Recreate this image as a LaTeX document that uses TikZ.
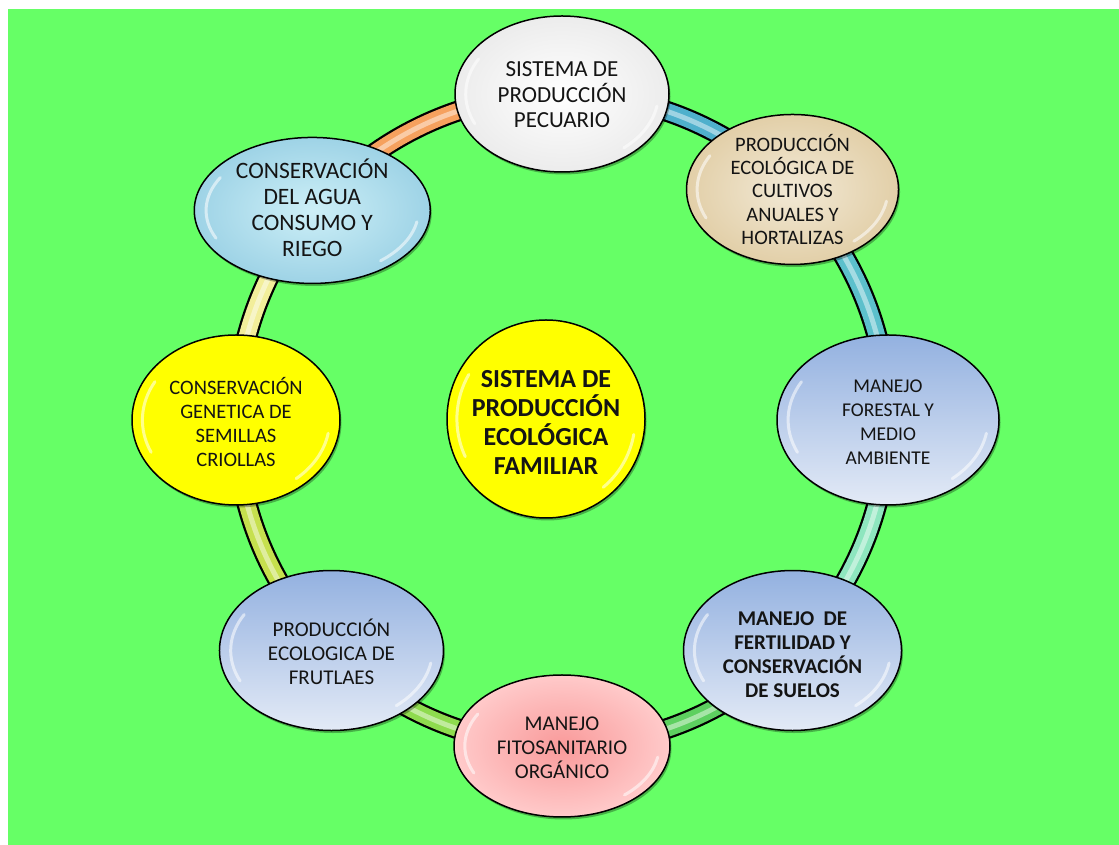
\documentclass[tikz,border=0pt]{standalone}
\usepackage{fontspec}
\setmainfont{Carlito}
\usetikzlibrary{shapes.geometric,shadows}
\pgfdeclarelayer{bg}
\pgfdeclarelayer{ring}
\pgfsetlayers{bg,ring,main}
\definecolor{bggreen}{HTML}{66FF66}
\definecolor{txtc}{HTML}{141414}
\definecolor{segA}{HTML}{F6A15E}
\definecolor{segB}{HTML}{4FB0CC}
\definecolor{segC}{HTML}{5CC0CC}
\definecolor{segD}{HTML}{8EE6BF}
\definecolor{segE}{HTML}{5DD060}
\definecolor{segF}{HTML}{8EDB4E}
\definecolor{segG}{HTML}{C6E04E}
\definecolor{segH}{HTML}{F2EE9A}
\definecolor{blueTop}{HTML}{93B1E0}
\definecolor{blueBot}{HTML}{E3EAF6}
\definecolor{pinkIn}{HTML}{F99A9A}
\definecolor{pinkOut}{HTML}{FFCACA}
\definecolor{tanIn}{HTML}{F2E9D6}
\definecolor{tanOut}{HTML}{E2CFA8}
\definecolor{waterIn}{HTML}{CDEFF7}
\definecolor{waterOut}{HTML}{9ED3E6}
\definecolor{yel}{HTML}{FFFF00}
\newcommand\ringseg[4]{%
  \draw[line width=21pt, black] (#1.center) arc[start angle=#2, end angle=#3, radius=326];
  \draw[line width=16.5pt, #4] (#1.center) arc[start angle=#2, end angle=#3, radius=326];
  \draw[line width=5pt, white, opacity=.45] (#1.center) arc[start angle=#2, end angle=#3, radius=326];}
\newcommand\mkgloss[3]{%
  \draw[gl] ([shift={(150:0.9*#2 and 0.9*#3)}]#1.center) arc[start angle=150, end angle=205, x radius=0.9*#2, y radius=0.9*#3];
  \draw[gl] ([shift={(-10:0.9*#2 and 0.9*#3)}]#1.center) arc[start angle=-10, end angle=-50, x radius=0.9*#2, y radius=0.9*#3];}
\begin{document}
\begin{tikzpicture}[x=1pt,y=1pt,
  ell/.style={ellipse, draw=black, line width=1.5pt, inner sep=0pt,
    drop shadow={shadow xshift=1.5pt, shadow yshift=-2.5pt, opacity=0.3, fill=black}},
  lbl/.style={align=center, text=txtc, inner sep=0pt, font=\fontsize{20.5}{24}\selectfont},
  gl/.style={white, line width=3pt, opacity=0.55, line cap=round},
  bluegrad/.style={top color=blueTop, bottom color=blueBot}]
\useasboundingbox (0,0) rectangle (1119,845);
\begin{pgfonlayer}{bg}
  \fill[bggreen] (8,0) rectangle (1119,836);
\end{pgfonlayer}
\coordinate (C) at (562,425);
% outer nodes
\node[ell, minimum width=214, minimum height=156, inner color=white, outer color=gray!15] (n1) at ([shift={(90:326)}]C) {};
\node[ell, minimum width=212, minimum height=150, inner color=tanIn, outer color=tanOut] (n2) at ([shift={(45:326)}]C) {};
\node[ell, minimum width=222, minimum height=170, bluegrad] (n3) at ([shift={(0:326)}]C) {};
\node[ell, minimum width=218, minimum height=160, bluegrad] (n4) at ([shift={(-45:326)}]C) {};
\node[ell, minimum width=216, minimum height=142, inner color=pinkIn, outer color=pinkOut] (n5) at ([shift={(-90:326)}]C) {};
\node[ell, minimum width=224, minimum height=160, bluegrad] (n6) at ([shift={(-135:326)}]C) {};
\node[ell, minimum width=208, minimum height=170, fill=yel] (n7) at ([shift={(180:326)}]C) {};
\node[ell, minimum width=236, minimum height=146, inner color=waterIn, outer color=waterOut] (n8) at ([shift={(140:326)}]C) {};
% centre
\node[circle, draw=black, line width=1.5pt, fill=yel, minimum size=198, inner sep=0pt,
  drop shadow={shadow xshift=1.5pt, shadow yshift=-2.5pt, opacity=0.3, fill=black}] (ctr) at (546,426) {};
% ring
\begin{pgfonlayer}{ring}
  \ringseg{n8}{140}{90}{segA}
  \ringseg{n1}{90}{45}{segB}
  \ringseg{n2}{45}{0}{segC}
  \ringseg{n3}{0}{-45}{segD}
  \ringseg{n4}{-45}{-90}{segE}
  \ringseg{n5}{-90}{-135}{segF}
  \ringseg{n6}{-135}{-180}{segG}
  \ringseg{n7}{180}{140}{segH}
\end{pgfonlayer}
% gloss
\mkgloss{n1}{107}{78}
\mkgloss{n2}{106}{75}
\mkgloss{n3}{111}{85}
\mkgloss{n4}{109}{80}
\mkgloss{n5}{108}{71}
\mkgloss{n6}{112}{80}
\mkgloss{n7}{104}{85}
\mkgloss{n8}{118}{73}
\mkgloss{ctr}{99}{99}
% labels
\node[lbl, font=\fontsize{23}{25.5}\selectfont] at ([yshift=-1]n1.center) {SISTEMA DE\\PRODUCCIÓN\\PECUARIO};
\node[lbl, font=\fontsize{20.5}{23.3}\selectfont] at ([yshift=0]n2.center) {PRODUCCIÓN\\ECOLÓGICA DE\\CULTIVOS\\ANUALES Y\\HORTALIZAS};
\node[lbl, font=\fontsize{19.5}{24}\selectfont] at ([yshift=-2]n3.center) {MANEJO\\FORESTAL Y\\MEDIO\\AMBIENTE};
\node[lbl, font=\bfseries\fontsize{21}{24}\selectfont] at ([yshift=-4]n4.center) {MANEJO\ \ DE\\FERTILIDAD Y\\CONSERVACIÓN\\DE SUELOS};
\node[lbl, font=\fontsize{21}{24}\selectfont] at ([yshift=-2]n5.center) {MANEJO\\FITOSANITARIO\\ORGÁNICO};
\node[lbl, font=\fontsize{21}{24}\selectfont] at ([yshift=-1]n6.center) {PRODUCCIÓN\\ECOLOGICA DE\\FRUTLAES};
\node[lbl, font=\fontsize{20.5}{24}\selectfont] at ([yshift=-2]n7.center) {CONSERVACIÓN\\GENETICA DE\\SEMILLAS\\CRIOLLAS};
\node[lbl, font=\fontsize{23.5}{26}\selectfont] at ([yshift=3]n8.center) {CONSERVACIÓN\\DEL AGUA\\CONSUMO Y\\RIEGO};
\node[lbl, font=\bfseries\fontsize{26}{29}\selectfont] at ([yshift=-3]ctr.center) {SISTEMA DE\\PRODUCCIÓN\\ECOLÓGICA\\FAMILIAR};
\end{tikzpicture}
\end{document}
